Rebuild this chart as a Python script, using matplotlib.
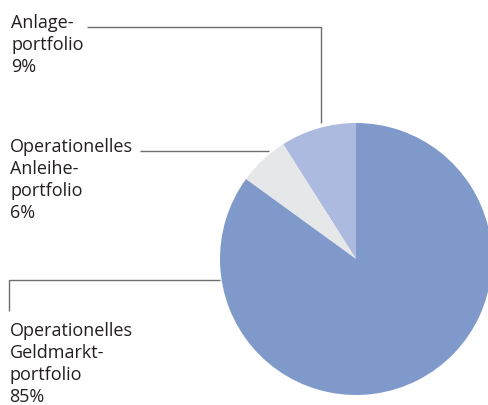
import matplotlib.pyplot as plt

# Portfolio shares (%), in drawing order starting at 12 o'clock, counterclockwise
labels = ["Anlage-\nportfolio", "Operationelles\nAnleihe-\nportfolio", "Operationelles\nGeldmarkt-\nportfolio"]
shares = [9, 6, 85]
colors = ["#adbadf", "#e6e7e8", "#7f99cb"]

W, H = 489, 406
fig = plt.figure(figsize=(W / 100, H / 100), dpi=100)
ax = fig.add_axes([0, 0, 1, 1])

# pie in pixel coordinates (y measured from bottom)
ax.pie(shares, colors=colors, startangle=90, counterclock=True,
       center=(356, H - 260), radius=136, frame=True,
       wedgeprops=dict(linewidth=0))
ax.set_xlim(0, W)
ax.set_ylim(0, H)
ax.set_aspect("equal")
ax.axis("off")

# labels: y is the baseline of the last line (the percentage)
txt = dict(fontsize=13, family="Open Sans", color="#231f20",
           ha="left", va="baseline", linespacing=1.28)
ax.text(11, H - 72, f"{labels[0]}\n{shares[0]}%", **txt)
ax.text(10, H - 218, f"{labels[1]}\n{shares[1]}%", **txt)
ax.text(9.5, H - 402, f"{labels[2]}\n{shares[2]}%", **txt)

# leader lines
line = dict(color="#6d6e70", linewidth=1.0, solid_capstyle="butt")
ax.plot([87, 321, 321], [H - 27.5, H - 27.5, H - 124], **line)
ax.plot([140, 269], [H - 152, H - 152], **line)
ax.plot([8.5, 8.5, 220], [H - 312, H - 281, H - 281], **line)

fig.savefig("out.png", dpi=100)
